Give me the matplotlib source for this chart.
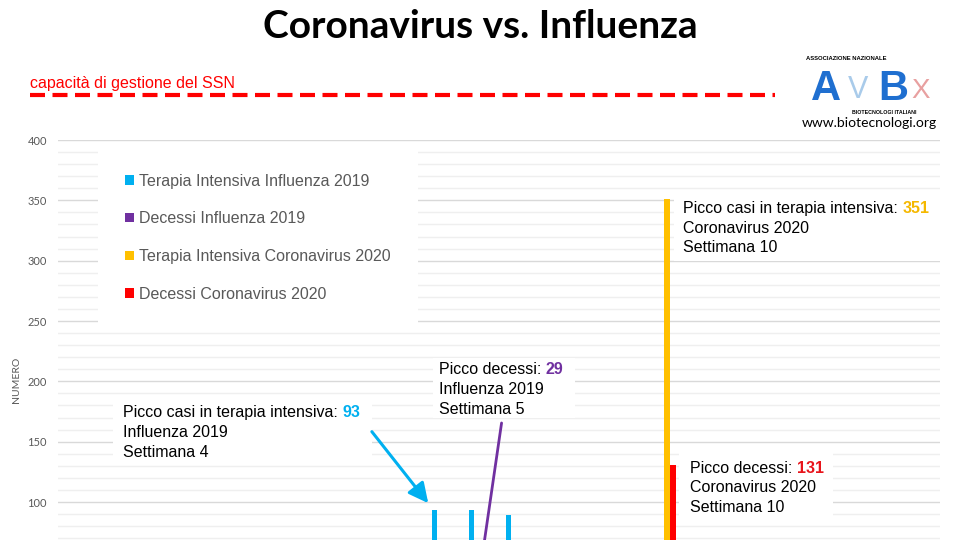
import numpy as np
import matplotlib
matplotlib.use("Agg")
import matplotlib.pyplot as plt
from matplotlib.patches import Patch, Rectangle
from matplotlib.lines import Line2D

W, H = 960, 540

# weeks of the flu season (2019/2020 comparison), x categories
WEEKS = ["46", "47", "48", "49", "50", "51", "52", "1", "2", "3", "4", "5",
         "6", "7", "8", "9", "10", "11", "12", "13", "14", "15", "16", "17"]
TI_FLU_2019 = [0, 0, 0, 0, 0, 0, 0, 0, 0, 0, 93, 93, 89, 0, 0, 0, 0, 0, 0, 0, 0, 0, 0, 0]
DEC_FLU_2019 = [0, 0, 0, 0, 0, 0, 0, 0, 0, 0, 0, 29, 0, 0, 0, 0, 0, 0, 0, 0, 0, 0, 0, 0]
TI_COV_2020 = [0, 0, 0, 0, 0, 0, 0, 0, 0, 0, 0, 0, 0, 0, 0, 0, 351, 0, 0, 0, 0, 0, 0, 0]
DEC_COV_2020 = [0, 0, 0, 0, 0, 0, 0, 0, 0, 0, 0, 0, 0, 0, 0, 0, 131, 0, 0, 0, 0, 0, 0, 0]
SERIES = ["Terapia Intensiva Influenza 2019", "Decessi Influenza 2019",
          "Terapia Intensiva Coronavirus 2020", "Decessi Coronavirus 2020"]
COLORS = ["#00B0F0", "#7030A0", "#FFC000", "#FF0000"]

SANS = "Liberation Sans"
GREY = "#595959"


def px(x, y):
    """pixel (from top-left) -> figure fraction"""
    return x / W, 1 - y / H


fig = plt.figure(figsize=(9.6, 5.4), dpi=100)
fig.patch.set_facecolor("white")

# axes: 400 sits at y=140px, 100 at y=502px; figure is cut at the bottom
ppu = (502 - 140) / 300.0
ax = fig.add_axes([58 / W, 0, 882 / W, 400 / H])
ax.set_ylim(400 - 400 / ppu, 400)
ax.set_xlim(-0.5, len(WEEKS) - 0.5)
for s in ax.spines.values():
    s.set_visible(False)
ax.set_yticks(np.arange(100, 401, 50))
ax.set_yticks(np.arange(70, 400, 10), minor=True)
ax.grid(axis="y", which="major", color="#D9D9D9", lw=1.0, zorder=0)
ax.grid(axis="y", which="minor", color="#EFEFEF", lw=1.0, zorder=0)
ax.tick_params(axis="y", which="both", length=0, labelsize=8, labelcolor=GREY, pad=8)
for lab in ax.get_yticklabels():
    lab.set_family("Lato")
ax.set_xticks([])

x = np.arange(len(WEEKS))
w = 6 / 36.75
data = [TI_FLU_2019, DEC_FLU_2019, TI_COV_2020, DEC_COV_2020]
for k, (vals, col) in enumerate(zip(data, COLORS)):
    ax.bar(x + (k - 1.5) * w, vals, width=w * (0.85 if k == 0 else 1.0), color=col, zorder=3)

fig.text(*px(17, 380), "NUMERO", rotation=90, ha="center", va="center",
         fontsize=7.5, color=GREY, family="Lato")

# white boxes behind the annotation text (above the gridlines, inside the axes)
for (x0, y0, x1, y1) in [(113, 398, 372, 465), (433, 358, 575, 418),
                         (674, 192, 940, 261), (679, 448, 833, 519)]:
    fx0, fy1 = px(x0, y0)
    fx1, fy0 = px(x1, y1)
    ax.add_patch(Rectangle((fx0, fy0), fx1 - fx0, fy1 - fy0, transform=fig.transFigure,
                           facecolor="white", edgecolor="none", zorder=2, clip_on=False))


def note(x0, baselines, prefix, num, col, lines):
    t = fig.text(*px(x0, baselines[0]), prefix, va="baseline", ha="left",
                 fontsize=11.5, family=SANS, color="black", zorder=5)
    ax.annotate(num, xy=(1, 0), xycoords=t, va="bottom", ha="left", fontsize=11.5,
                family=SANS, fontweight="bold", color=col, zorder=6,
                annotation_clip=False)
    for yb, s in zip(baselines[1:], lines):
        fig.text(*px(x0, yb), s, va="baseline", ha="left", fontsize=11.5,
                 family=SANS, color="black", zorder=5)


note(123, [417, 437, 457], "Picco casi in terapia intensiva: ", str(max(TI_FLU_2019)),
     COLORS[0], ["Influenza 2019", "Settimana 4"])
note(439, [374, 394, 414], "Picco decessi: ", str(max(DEC_FLU_2019)),
     COLORS[1], ["Influenza 2019", "Settimana 5"])
note(683, [213, 233, 252], "Picco casi in terapia intensiva: ", str(max(TI_COV_2020)),
     "#F5B800", ["Coronavirus 2020", "Settimana 10"])
note(690, [473, 492, 512], "Picco decessi: ", str(max(DEC_COV_2020)),
     "#E8141B", ["Coronavirus 2020", "Settimana 10"])

# arrows towards the peak bars
ax.annotate("", xy=(x[10] - 1.5 * w - 0.18, TI_FLU_2019[10] + 6), xytext=(8.04, 158.3),
            arrowprops=dict(arrowstyle="-|>,head_length=1.0,head_width=0.5", color=COLORS[0],
                            lw=2.2, shrinkA=0, shrinkB=0, mutation_scale=12),
            zorder=4)
ax.annotate("", xy=(x[11] - 0.5 * w, DEC_FLU_2019[11]), xytext=(11.57, 165.5),
            arrowprops=dict(arrowstyle="-", color=COLORS[1], lw=2.0, shrinkA=0, shrinkB=0),
            zorder=4, annotation_clip=False)

handles = [Patch(facecolor=c, edgecolor="none") for c in COLORS]
fig.legend(handles, SERIES, loc="upper left", bbox_to_anchor=px(98, 146.5),
           frameon=True, facecolor="white", edgecolor="none", framealpha=1,
           fancybox=False, borderaxespad=0, borderpad=1.7, handlelength=0.55,
           handleheight=0.55, handletextpad=0.3, labelspacing=1.42,
           prop={"family": SANS, "size": 11.5}, labelcolor=GREY)

# title
fig.text(*px(480, 38), "Coronavirus vs. Influenza", ha="center", va="baseline",
         fontsize=28, fontweight="bold", family="Lato", color="black")

# SSN capacity line
fig.text(*px(30, 88), "capacità di gestione del SSN", ha="left", va="baseline",
         fontsize=11.5, family=SANS, color="#FF0000")
x0, y0 = px(30, 95)
x1, _ = px(775, 95)
fig.add_artist(Line2D([x0, x1], [y0, y0], transform=fig.transFigure, color="#FF0000",
                      lw=3.0, dashes=(3.6, 1.8)))

# logo (text approximation)
fig.text(*px(806, 60), "ASSOCIAZIONE NAZIONALE", fontsize=4.2, fontweight="bold",
         family=SANS, color="black", ha="left", va="baseline")
fig.text(*px(826, 100), "A", fontsize=30, fontweight="bold", family=SANS,
         color="#1F6FD0", ha="center", va="baseline")
fig.text(*px(858, 98), "V", fontsize=22, family=SANS,
         color="#A9CBEA", ha="center", va="baseline")
fig.text(*px(893, 100), "B", fontsize=30, fontweight="bold", family=SANS,
         color="#1F6FD0", ha="center", va="baseline")
fig.text(*px(921, 98), "X", fontsize=20, family=SANS,
         color="#E8A0A0", ha="center", va="baseline")
fig.text(*px(852, 114), "BIOTECNOLOGI ITALIANI", fontsize=3.8, fontweight="bold",
         family=SANS, color="black", ha="left", va="baseline")
fig.text(*px(869, 127), "www.biotecnologi.org", fontsize=10, family="Lato",
         color="black", ha="center", va="baseline")

fig.savefig("out.png", dpi=100)
